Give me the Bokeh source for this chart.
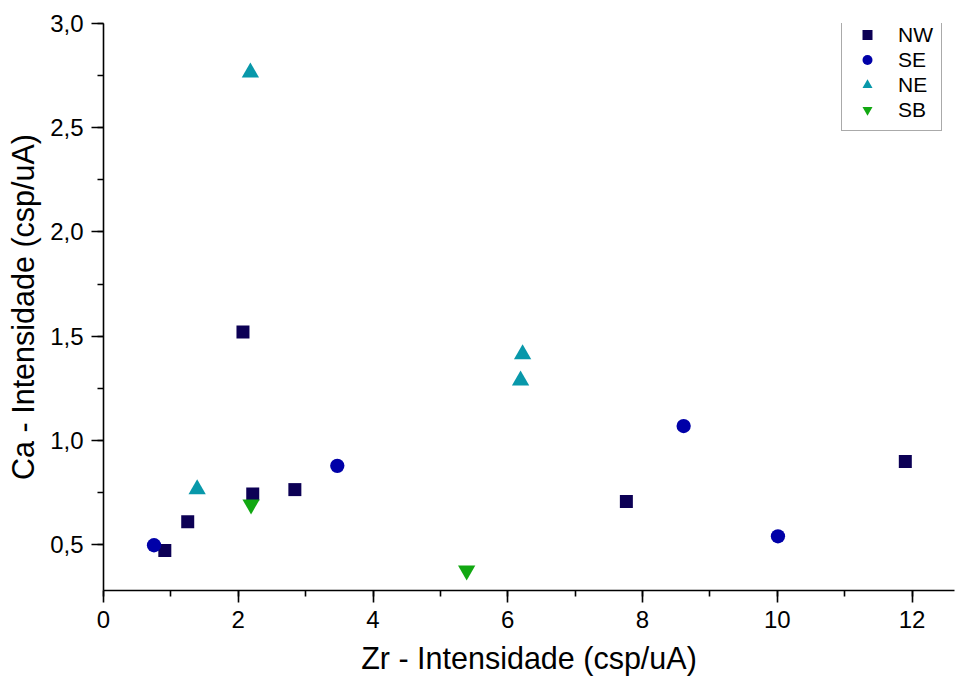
from bokeh.plotting import figure
from bokeh.models import (Legend, LegendItem, SingleIntervalTicker, CustomJSTickFormatter,
                          Range1d)
from bokeh.embed import file_html
from bokeh.resources import INLINE

# ---- data ----
nw_x = [0.91, 1.25, 2.07, 2.215, 2.84, 7.76, 11.9]
nw_y = [0.472, 0.61, 1.52, 0.743, 0.764, 0.707, 0.899]
se_x = [0.75, 3.47, 8.61, 10.01]
se_y = [0.497, 0.878, 1.069, 0.540]
ne_x = [1.39, 2.18, 6.19, 6.22]
ne_y = [0.766, 2.765, 1.287, 1.413]
sb_x = [2.19, 5.39]
sb_y = [0.693, 0.376]

x_title = "Zr - Intensidade (csp/uA)"
y_title = "Ca - Intensidade (csp/uA)"

FONT = "Liberation Sans"

p = figure(width=955, height=681, output_backend="svg", toolbar_location=None,
           x_range=Range1d(0, 12.63), y_range=Range1d(0.28, 3.0),
           min_border_left=103, min_border_right=1, min_border_top=23,
           min_border_bottom=91)
p.outline_line_color = None
p.grid.visible = False
p.background_fill_color = "white"
p.border_fill_color = "white"

r_nw = p.scatter(nw_x, nw_y, marker="square", size=13, fill_color="#0c0055", line_color=None)
r_se = p.scatter(se_x, se_y, marker="circle", size=14.3, fill_color="#0000a8", line_color=None)
r_ne = p.scatter(ne_x, ne_y, marker="triangle", size=17.3, fill_color="#0898aa", line_color=None)
r_sb = p.scatter(sb_x, sb_y, marker="inverted_triangle", size=17.3, fill_color="#12a812", line_color=None)

p.xaxis.ticker = SingleIntervalTicker(interval=2, num_minor_ticks=2)
p.yaxis.ticker = SingleIntervalTicker(interval=0.5, num_minor_ticks=2)
p.yaxis.formatter = CustomJSTickFormatter(code="return tick.toFixed(1).replace('.', ',');")
p.xaxis.formatter = CustomJSTickFormatter(code="return tick.toFixed(0);")

for ax in (p.xaxis, p.yaxis):
    ax.axis_line_width = 1.6
    ax.axis_line_color = "black"
    ax.major_tick_line_width = 1.6
    ax.minor_tick_line_width = 1.6
    ax.major_tick_line_color = "black"
    ax.minor_tick_line_color = "black"
    ax.major_tick_in = 0
    ax.major_tick_out = 12
    ax.minor_tick_in = 0
    ax.minor_tick_out = 6
    ax.major_label_text_font = FONT
    ax.major_label_text_font_size = "24px"
    ax.major_label_text_color = "black"
    ax.axis_label_text_font = FONT
    ax.axis_label_text_font_size = "30.5px"
    ax.axis_label_text_font_style = "normal"
    ax.axis_label_text_color = "black"

p.xaxis.axis_label = x_title
p.yaxis.axis_label = y_title
p.xaxis.major_label_standoff = 8
p.yaxis.major_label_standoff = 8
p.xaxis.axis_label_standoff = 10
p.yaxis.axis_label_standoff = 7

legend = Legend(items=[
    LegendItem(label="NW", renderers=[r_nw]),
    LegendItem(label="SE", renderers=[r_se]),
    LegendItem(label="NE", renderers=[r_ne]),
    LegendItem(label="SB", renderers=[r_sb]),
], location=(738, 459), margin=0, padding=8, spacing=0,
    glyph_height=25, glyph_width=34, label_standoff=14, label_height=25,
    label_text_font=FONT, label_text_font_size="21px", label_text_color="black",
    border_line_color="#555555", border_line_width=1, background_fill_color="white",
    background_fill_alpha=1.0)
p.add_layout(legend, "center")

open("out.html", "w").write(file_html(p, INLINE))
